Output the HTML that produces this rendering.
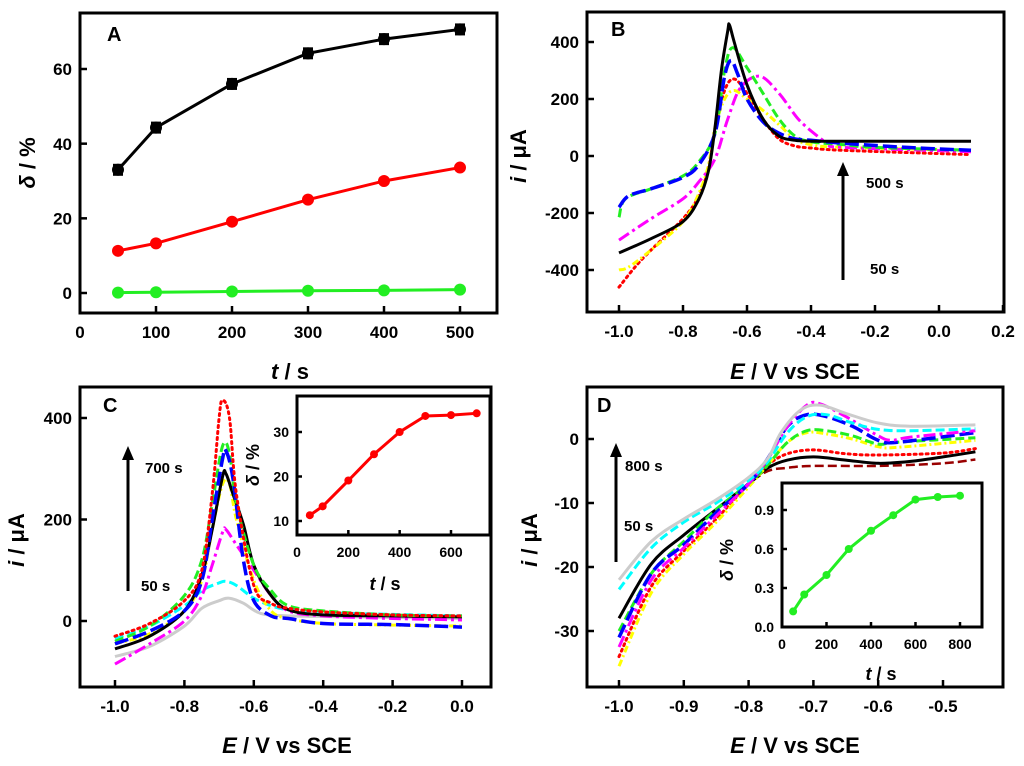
<!DOCTYPE html>
<html><head><meta charset="utf-8"><style>
body{margin:0;background:#fff}
svg{display:block;font-family:"Liberation Sans",Arial,sans-serif;font-weight:bold}
</style></head><body>
<svg id="fig" width="1024" height="766" viewBox="0 0 1024 766" xmlns="http://www.w3.org/2000/svg"></svg>
<script>
// ---- Panel A data ----
const aTimes=[50,100,200,300,400,500];
const aBlack=[33,44.3,56,64.2,68,70.6];
const aRed=[11.3,13.3,19.1,25,30,33.6];
const aGreen=[0.1,0.2,0.4,0.6,0.7,0.9];
const aXTicks=[0,100,200,300,400,500];
const aYTicks=[0,20,40,60];
// ---- Panel B data ----
const bBlackE=[-1,-0.9,-0.8,-0.75,-0.72,-0.7,-0.68,-0.66,-0.655,-0.64,-0.6,-0.55,-0.5,-0.45,-0.4,-0.3,0.1];
const bBlackI=[-340,-290,-230,-150,-50,100,300,440,460,400,250,130,70,55,52,52,52];
const bGreenE=[-1,-0.98,-0.9,-0.8,-0.75,-0.7,-0.67,-0.645,-0.6,-0.55,-0.5,-0.45,-0.4,-0.3,-0.2,0.1];
const bGreenI=[-215,-150,-115,-70,-20,80,300,380,310,220,130,70,50,40,30,20];
const bBlueE=[-1,-0.97,-0.9,-0.8,-0.75,-0.7,-0.67,-0.65,-0.63,-0.6,-0.55,-0.5,-0.45,-0.4,-0.3,-0.1,0.1];
const bBlueI=[-180,-140,-115,-75,-30,80,280,335,290,200,120,80,60,55,45,30,20];
const bMagE=[-1,-0.9,-0.8,-0.75,-0.7,-0.66,-0.62,-0.56,-0.5,-0.44,-0.38,-0.34,-0.3,0.1];
const bMagI=[-295,-220,-150,-90,-10,130,240,280,220,130,70,40,30,15];
const bYelE=[-1,-0.97,-0.9,-0.8,-0.75,-0.72,-0.7,-0.67,-0.64,-0.6,-0.55,-0.5,-0.45,-0.4,-0.3,0.1];
const bYelI=[-400,-390,-330,-230,-130,-30,100,200,230,200,160,110,60,40,30,20];
const bRedE=[-1,-0.95,-0.9,-0.8,-0.75,-0.72,-0.7,-0.67,-0.64,-0.6,-0.55,-0.5,-0.45,-0.4,-0.3,0.1];
const bRedI=[-460,-390,-330,-220,-140,-40,90,230,270,220,130,60,35,28,20,5];
const bXTicks=[-1.0,-0.8,-0.6,-0.4,-0.2,0.0,0.2];
const bYTicks=[-400,-200,0,200,400];
// ---- Panel C data ----
const cRedE=[-1,-0.9,-0.8,-0.75,-0.72,-0.7,-0.69,-0.67,-0.65,-0.6,-0.55,-0.5,-0.4,-0.2,0];
const cRedI=[-30,-5,40,100,250,400,435,400,250,70,35,25,18,12,10];
const cGreenE=[-1,-0.9,-0.8,-0.75,-0.72,-0.69,-0.67,-0.65,-0.6,-0.55,-0.5,-0.4,-0.2,0];
const cGreenI=[-40,-10,50,120,230,345,330,230,110,60,30,20,12,10];
const cBlueE=[-1,-0.9,-0.8,-0.75,-0.72,-0.69,-0.68,-0.66,-0.63,-0.6,-0.55,-0.5,-0.4,-0.2,0];
const cBlueI=[-45,-20,20,80,200,320,335,280,120,40,10,5,-5,-7,-12];
const cBlackE=[-1,-0.9,-0.8,-0.75,-0.72,-0.69,-0.68,-0.66,-0.63,-0.6,-0.55,-0.5,-0.4,-0.2,0];
const cBlackI=[-55,-30,20,90,180,285,290,250,190,110,50,22,12,10,8];
const cYelE=[-1,-0.9,-0.8,-0.75,-0.72,-0.69,-0.67,-0.65,-0.6,-0.55,-0.5,-0.4,-0.2,0];
const cYelI=[-45,-25,20,80,180,270,270,200,80,20,5,-5,-8,-10];
const cMagE=[-1,-0.9,-0.8,-0.75,-0.72,-0.69,-0.68,-0.65,-0.6,-0.55,-0.5,-0.4,-0.2,0];
const cMagI=[-85,-45,0,50,110,175,180,150,100,50,20,10,5,2];
const cCyanE=[-1,-0.9,-0.8,-0.75,-0.7,-0.68,-0.65,-0.6,-0.55,-0.5,-0.4,-0.2,0];
const cCyanI=[-35,-10,30,60,75,78,70,45,30,22,17,13,10];
const cGrayE=[-1,-0.9,-0.8,-0.75,-0.7,-0.67,-0.63,-0.58,-0.5,-0.3,0];
const cGrayI=[-70,-50,-10,25,40,45,35,15,10,8,5];
const cXTicks=[-1.0,-0.8,-0.6,-0.4,-0.2,0.0];
const cYTicks=[0,200,400];
const ciTimes=[50,100,200,300,400,500,600,700];
const ciDelta=[11.3,13.3,19.1,25,30,33.6,33.8,34.2];
const ciXTicks=[0,200,400,600];
const ciYTicks=[10,20,30];
// ---- Panel D data ----
const dGrayE=[-1,-0.95,-0.9,-0.85,-0.8,-0.77,-0.75,-0.72,-0.69,-0.65,-0.6,-0.55,-0.45];
const dGrayI=[-22,-16,-12.5,-9.5,-6,-3,1,4.5,5.3,4,2.5,2,2.2];
const dCyanE=[-1,-0.95,-0.9,-0.85,-0.8,-0.77,-0.74,-0.71,-0.68,-0.64,-0.6,-0.55,-0.45];
const dCyanI=[-23.5,-17,-13,-10,-6.5,-3.5,1,3.5,3.8,2.5,1.5,1.3,1.6];
const dMagE=[-1,-0.95,-0.9,-0.85,-0.8,-0.77,-0.74,-0.71,-0.69,-0.65,-0.6,-0.58,-0.55,-0.45];
const dMagI=[-32.5,-22,-17,-12,-7,-3,2,5.3,5.5,3.5,0.5,-0.2,0.3,1.3];
const dBlueE=[-1,-0.95,-0.9,-0.85,-0.8,-0.77,-0.74,-0.71,-0.68,-0.64,-0.6,-0.57,-0.45];
const dBlueI=[-31,-21,-16.5,-11.5,-7,-3,2,3.8,3.5,2,-0.2,-0.5,1];
const dGreenE=[-1,-0.95,-0.9,-0.85,-0.8,-0.77,-0.74,-0.71,-0.68,-0.64,-0.6,-0.57,-0.45];
const dGreenI=[-30,-21,-16,-11,-7,-4,-0.5,1.3,1.3,0.5,-0.8,-0.5,0.2];
const dYelE=[-1,-0.95,-0.9,-0.85,-0.8,-0.77,-0.74,-0.71,-0.68,-0.64,-0.6,-0.57,-0.45];
const dYelI=[-35.5,-24,-18,-13,-7.5,-4,-0.5,1,0.8,0,-1.2,-1.3,-0.2];
const dRedE=[-1,-0.95,-0.9,-0.85,-0.8,-0.77,-0.74,-0.7,-0.65,-0.6,-0.5,-0.45];
const dRedI=[-34,-23,-17.5,-12.5,-7,-4,-2.3,-1.7,-2.3,-2.5,-2.2,-1.5];
const dBlackE=[-1,-0.95,-0.9,-0.85,-0.8,-0.77,-0.74,-0.7,-0.65,-0.6,-0.55,-0.5,-0.45];
const dBlackI=[-28,-19.5,-15,-11,-7,-4.5,-3.3,-2.8,-3.3,-3.8,-3.5,-2.8,-2];
const dDkrE=[-1,-0.95,-0.9,-0.85,-0.8,-0.77,-0.74,-0.7,-0.6,-0.5,-0.45];
const dDkrI=[-28,-19.5,-15,-11,-7,-5,-4.5,-4.2,-4.2,-3.8,-3.2];
const dXTicks=[-1.0,-0.9,-0.8,-0.7,-0.6,-0.5];
const dYTicks=[-30,-20,-10,0];
const diTimes=[50,100,200,300,400,500,600,700,800];
const diDelta=[0.12,0.25,0.4,0.6,0.74,0.86,0.98,1.0,1.01];
const diXTicks=[0,200,400,600,800];
const diYTicks=[0.0,0.3,0.6,0.9];

const NS="http://www.w3.org/2000/svg";
const fig=document.getElementById('fig');
function mk(tag,attrs,parent,text){const e=document.createElementNS(NS,tag);for(const k in attrs)e.setAttribute(k,attrs[k]);if(text!==undefined)e.textContent=text;(parent||fig).appendChild(e);return e;}
function lin(d0,d1,p0,p1){return v=>p0+(v-d0)*(p1-p0)/(d1-d0);}
function smooth(pts){let d='M'+pts[0][0].toFixed(1)+','+pts[0][1].toFixed(1);for(let i=0;i<pts.length-1;i++){const p0=pts[i-1]||pts[i],p1=pts[i],p2=pts[i+1],p3=pts[i+2]||p2;const c1=[p1[0]+(p2[0]-p0[0])/6,p1[1]+(p2[1]-p0[1])/6],c2=[p2[0]-(p3[0]-p1[0])/6,p2[1]-(p3[1]-p1[1])/6];d+=' C'+c1.map(v=>v.toFixed(1))+' '+c2.map(v=>v.toFixed(1))+' '+p2.map(v=>v.toFixed(1));}return d;}
function frame(g,x0,y0,x1,y1,name,sw,fill){const r=mk('rect',{x:x0,y:y0,width:x1-x0,height:y1-y0,fill:fill||'none',stroke:'#000','stroke-width':sw||3},g);}
function axes(g,xs,ys,xT,yT,x0,y0,x1,y1,fs,fmtX,fmtY,name,tl){
  const ticks=mk('g',{},g);
  xT.forEach(t=>{const x=xs(t);mk('line',{x1:x,y1:y1,x2:x,y2:y1-tl,stroke:'#000','stroke-width':2.5},ticks);
    const l=mk('text',{x:x,y:y1+fs+8,'font-size':fs,'text-anchor':'middle'},ticks,fmtX(t));});
  yT.forEach(t=>{const y=ys(t);mk('line',{x1:x0,y1:y,x2:x0+tl,y2:y,stroke:'#000','stroke-width':2.5},ticks);
    const l=mk('text',{x:x0-8,y:y+fs*0.36,'font-size':fs,'text-anchor':'end'},ticks,fmtY(t));});
}
function series(g,xs,ys,X,Y,color,dash,w,name){const p=mk('path',{d:smooth(X.map((x,i)=>[xs(x),ys(Y[i])])),fill:'none',stroke:color,'stroke-width':w||3,'stroke-dasharray':dash||'none','stroke-linecap':dash&&dash.startsWith('2')?'round':'butt'},g);}
function markers(g,xs,ys,X,Y,color,r,name){const gg=mk('g',{},g);
  mk('polyline',{points:X.map((x,i)=>xs(x)+','+ys(Y[i])).join(' '),fill:'none',stroke:color,'stroke-width':3},gg);
  X.forEach((x,i)=>{const c=mk('circle',{cx:xs(x),cy:ys(Y[i]),r:r,fill:color},gg);});}
function txt(x,y,s,fs,name,extra){const t=mk('text',Object.assign({x:x,y:y,'font-size':fs},extra||{}));t.innerHTML=s;return t;}
function arrow(x,yb,yt,name){const g=mk('g',{});mk('line',{x1:x,y1:yb,x2:x,y2:yt+12,stroke:'#000','stroke-width':3},g);mk('polygon',{points:`${x-6},${yt+14} ${x+6},${yt+14} ${x},${yt}`,fill:'#000'},g);}
const fx=t=>t.toFixed(1), fi=t=>String(t);
const TF=17, IF=14;

// ===== Panel A =====
{const g=mk('g',{});
const xs=lin(0,500,80,460),ys=lin(0,60,293,69);
markers(g,xs,ys,aTimes,aBlack,'#000',6,'series-black');
markers(g,xs,ys,aTimes,aRed,'#f00',6,'series-red');
markers(g,xs,ys,aTimes,aGreen,'#2e2',6,'series-green');
aTimes.forEach((t,i)=>{mk('rect',{x:xs(t)-5,y:ys(aBlack[i])-6,width:10,height:12,fill:'#000'},g);});
frame(g,80,13,497,313,'panel-a-frame');
axes(g,xs,ys,aXTicks,aYTicks,80,13,497,313,TF,fi,fi,'panel-a',7);
txt(107,41,'A',20,'panel-a-label');
txt(290,379,'<tspan font-style="italic">t</tspan> / s',22,'x-axis-title-a',{'text-anchor':'middle'});
txt(0,0,'<tspan font-style="italic">δ</tspan> / %',22,'y-axis-title-a',{'text-anchor':'middle',transform:'translate(35,163) rotate(-90)'});}

// ===== Panel B =====
{const g=mk('g',{});
const xs=lin(-1,0.2,619,1003),ys=lin(0,400,156,42);
series(g,xs,ys,bRedE,bRedI,'#f00','2,4',3,'curve-red');
series(g,xs,ys,bYelE,bYelI,'#ff0','7,3,2,3',3,'curve-yellow');
series(g,xs,ys,bMagE,bMagI,'#f0f','12,4,3,4',3,'curve-magenta');
series(g,xs,ys,bGreenE,bGreenI,'#2e2','9,4',3,'curve-green');
series(g,xs,ys,bBlueE,bBlueI,'#00f','14,5',3.5,'curve-blue');
series(g,xs,ys,bBlackE,bBlackI,'#000',null,3,'curve-black');
frame(g,587,12,1004,312,'panel-b-frame');
axes(g,xs,ys,bXTicks,bYTicks,587,12,1004,312,TF,fx,fi,'panel-b',7);
arrow(xs(-0.3),280,162,'arrow-b');
txt(866,188,'500 s',15,'label-500s');txt(870,274,'50 s',15,'label-50s-b');
txt(611,36,'B',20,'panel-b-label');
txt(795,379,'<tspan font-style="italic">E</tspan> / V vs SCE',22,'x-axis-title-b',{'text-anchor':'middle'});
txt(0,0,'<tspan font-style="italic">i</tspan> / μA',22,'y-axis-title-b',{'text-anchor':'middle',transform:'translate(526,156) rotate(-90)'});}

// ===== Panel C =====
{const g=mk('g',{});
const xs=lin(-1,0,115,462),ys=lin(0,400,621,418);
series(g,xs,ys,cGrayE,cGrayI,'#ccc',null,3,'curve-gray');
series(g,xs,ys,cCyanE,cCyanI,'#0ff','9,4',3,'curve-cyan');
series(g,xs,ys,cMagE,cMagI,'#f0f','12,4,3,4',3,'curve-magenta');
series(g,xs,ys,cYelE,cYelI,'#ff0','7,3,2,3',3,'curve-yellow');
series(g,xs,ys,cBlackE,cBlackI,'#000',null,3,'curve-black');
series(g,xs,ys,cGreenE,cGreenI,'#2e2','9,4',3,'curve-green');
series(g,xs,ys,cBlueE,cBlueI,'#00f','14,5',3.5,'curve-blue');
series(g,xs,ys,cRedE,cRedI,'#f00','2,4',3,'curve-red');
frame(g,80,387,491,687,'panel-c-frame');
axes(g,xs,ys,cXTicks,cYTicks,80,387,491,687,TF,fx,fi,'panel-c',7);
arrow(128,591,446,'arrow-c');
txt(145,473,'700 s',15,'label-700s');txt(141,591,'50 s',15,'label-50s-c');
txt(103,412,'C',20,'panel-c-label');
txt(287,753,'<tspan font-style="italic">E</tspan> / V vs SCE',22,'x-axis-title-c',{'text-anchor':'middle'});
txt(0,0,'<tspan font-style="italic">i</tspan> / μA',22,'y-axis-title-c',{'text-anchor':'middle',transform:'translate(24,540) rotate(-90)'});
const ig=mk('g',{},g);
frame(ig,297,396,490,535,'inset-c-bg',0,'#fff');
const ixs=lin(0,600,297,451),iys=lin(10,30,521,432);
markers(ig,ixs,iys,ciTimes,ciDelta,'#f00',4,'inset-c-series');
frame(ig,297,396,490,535,'inset-c-frame',2.5);
axes(ig,ixs,iys,ciXTicks,ciYTicks,297,396,490,535,IF,fi,fi,'inset-c',5);
txt(385,590,'<tspan font-style="italic">t</tspan> / s',18,'inset-c-x-title',{'text-anchor':'middle'});
txt(0,0,'<tspan font-style="italic">δ</tspan> / %',18,'inset-c-y-title',{'text-anchor':'middle',transform:'translate(259,465) rotate(-90)'});}

// ===== Panel D =====
{const g=mk('g',{});
const xs=lin(-1,-0.5,619,943),ys=lin(0,-30,439,631);
series(g,xs,ys,dDkrE,dDkrI,'#900','9,4',2.5,'curve-darkred');
series(g,xs,ys,dBlackE,dBlackI,'#000',null,3,'curve-black');
series(g,xs,ys,dRedE,dRedI,'#f00','2,4',3,'curve-red');
series(g,xs,ys,dYelE,dYelI,'#ff0','7,3,2,3',3,'curve-yellow');
series(g,xs,ys,dGreenE,dGreenI,'#2e2','9,4',3,'curve-green');
series(g,xs,ys,dBlueE,dBlueI,'#00f','14,5',3.5,'curve-blue');
series(g,xs,ys,dMagE,dMagI,'#f0f','12,4,3,4',3,'curve-magenta');
series(g,xs,ys,dCyanE,dCyanI,'#0ff','9,4',3,'curve-cyan');
series(g,xs,ys,dGrayE,dGrayI,'#ccc',null,3,'curve-gray');
frame(g,587,387,1003,687,'panel-d-frame');
axes(g,xs,ys,dXTicks,dYTicks,587,387,1003,687,TF,fx,fi,'panel-d',7);
arrow(616,562,443,'arrow-d');
txt(625,471,'800 s',15,'label-800s');txt(624,531,'50 s',15,'label-50s-d');
txt(597,412,'D',20,'panel-d-label');
txt(795,753,'<tspan font-style="italic">E</tspan> / V vs SCE',22,'x-axis-title-d',{'text-anchor':'middle'});
txt(0,0,'<tspan font-style="italic">i</tspan> / μA',22,'y-axis-title-d',{'text-anchor':'middle',transform:'translate(537,540) rotate(-90)'});
const ig=mk('g',{},g);
frame(ig,782,483,982,627,'inset-d-bg',0,'#fff');
const ixs=lin(0,800,782,960),iys=lin(0,0.9,627,510);
markers(ig,ixs,iys,diTimes,diDelta,'#2e2',4,'inset-d-series');
frame(ig,782,483,982,627,'inset-d-frame',2.5);
axes(ig,ixs,iys,diXTicks,diYTicks,782,483,982,627,IF,fi,fx,'inset-d',5);
txt(881,680,'<tspan font-style="italic">t</tspan> / s',18,'inset-d-x-title',{'text-anchor':'middle'});
txt(0,0,'<tspan font-style="italic">δ</tspan> / %',18,'inset-d-y-title',{'text-anchor':'middle',transform:'translate(733,560) rotate(-90)'});}
</script>
</body></html>
